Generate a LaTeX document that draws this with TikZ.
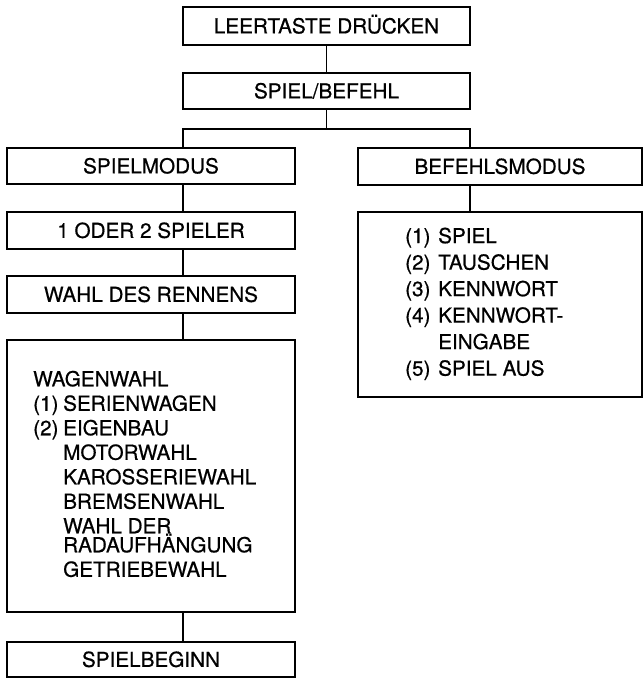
\documentclass[tikz,border=0pt]{standalone}
\usepackage{fontspec}
\setmainfont{TeX Gyre Heros}[RawFeature={embolden=0.6}]
\begin{document}
\begin{tikzpicture}[x=1pt,y=-1pt,
  every node/.style={inner sep=0pt},
  box/.style={draw,line width=1.2pt,font=\fontsize{20.7}{24.5}\selectfont,text height=14.8pt,text depth=0pt},
  listtxt/.style={anchor=north west,align=left,font=\fontsize{20.7}{24.5}\selectfont},
  conn/.style={line width=1.2pt}]
\useasboundingbox (0,0) rectangle (643,678);
\node[box,minimum width=287pt,minimum height=38pt] (leer) at (326.5,26) {LEERTASTE DRÜCKEN};
\node[box,minimum width=287pt,minimum height=36pt] (sb) at (326.5,91) {SPIEL/BEFEHL};
\node[box,minimum width=288pt,minimum height=36pt] (sm) at (151,166) {SPIELMODUS};
\node[box,minimum width=284pt,minimum height=37pt] (bm) at (500,166.5) {BEFEHLSMODUS};
\node[box,minimum width=288pt,minimum height=37pt] (od) at (151,230.5) {1 ODER 2 SPIELER};
\node[box,minimum width=288pt,minimum height=37pt] (wdr) at (151,294.5) {WAHL DES RENNENS};
\node[box,minimum width=288pt,minimum height=272pt] (wag) at (151,476) {};
\node[box,minimum width=288pt,minimum height=35pt] (spb) at (151,659.5) {SPIELBEGINN};
\node[box,minimum width=284pt,minimum height=185pt] (bl) at (500,304.5) {};
\node[listtxt] (wagtxt) at (33,370.6) {WAGENWAHL\\
\makebox[30pt][l]{(1)}SERIENWAGEN\\
\makebox[30pt][l]{(2)}EIGENBAU\\
\hspace*{30pt}MOTORWAHL\\
\hspace*{30pt}KAROSSERIEWAHL\\
\hspace*{30pt}BREMSENWAHL\\
\hspace*{30pt}WAHL DER\\[-5.5pt]
\hspace*{30pt}RADAUFHÄNGUNG\\
\hspace*{30pt}GETRIEBEWAHL};
\node[listtxt,font=\fontsize{20.7}{26.5}\selectfont] (bltxt) at (405,227.5) {\makebox[33pt][l]{(1)}SPIEL\\
\makebox[33pt][l]{(2)}TAUSCHEN\\
\makebox[33pt][l]{(3)}KENNWORT\\
\makebox[33pt][l]{(4)}KENNWORT-\\
\hspace*{33pt}EINGABE\\
\makebox[33pt][l]{(5)}SPIEL AUS};
\coordinate (jm) at (326.5,129);
\coordinate (jl) at (183,129);
\coordinate (jr) at (470,129);
\draw[conn] (leer) -- (sb);
\draw[conn] (sb.south) -- (jm);
\draw[conn] (jl |- sm.north) -- (jl) -- (jr) -- (jr |- bm.north);
\draw[conn] (jl |- sm.south) -- (jl |- od.north);
\draw[conn] (jl |- od.south) -- (jl |- wdr.north);
\draw[conn] (jl |- wdr.south) -- (jl |- wag.north);
\draw[conn] (jl |- wag.south) -- (jl |- spb.north);
\draw[conn] (jr |- bm.south) -- (jr |- bl.north);
\end{tikzpicture}
\end{document}
